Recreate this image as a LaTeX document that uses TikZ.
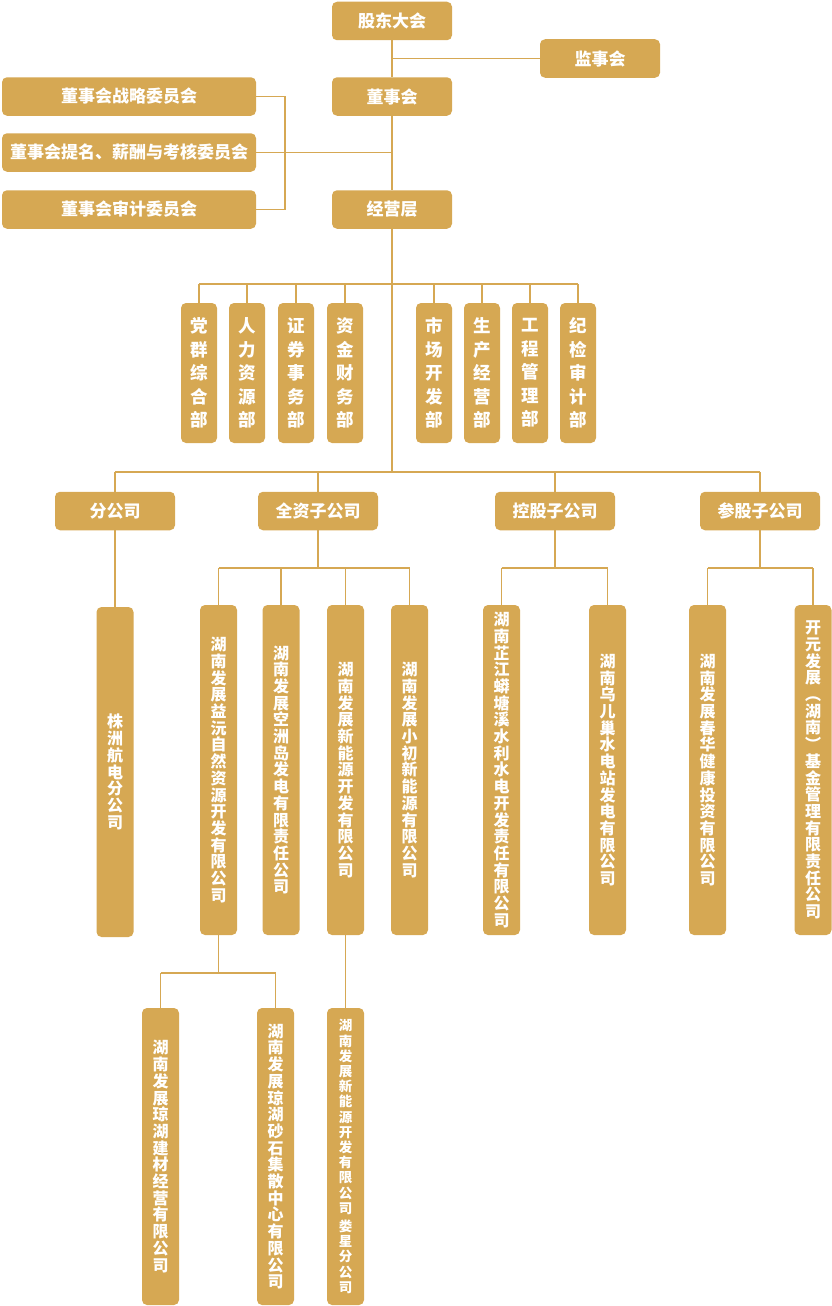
\documentclass[tikz,border=0pt]{standalone}
\usepackage{fontspec}
\newfontfamily\cjk{Noto Sans CJK SC}
\definecolor{gold}{HTML}{D6A853}
\begin{document}
\begin{tikzpicture}[x=1pt,y=-1pt,
 box/.style={fill=gold, rounded corners=5pt, text=white, inner sep=0pt, font=\cjk\bfseries\fontsize{17}{19}\selectfont},
 hbox/.style={box, minimum width=120pt, minimum height=38.5pt},
 cbox/.style={box, minimum width=254pt, minimum height=38.5pt},
 dbox/.style={box, minimum width=36pt, minimum height=140pt, align=center, font=\cjk\bfseries\fontsize{17.5}{23.5}\selectfont},
 vbox/.style={box, minimum width=37pt, minimum height=330pt, align=center, font=\cjk\bfseries\fontsize{16}{16.7}\selectfont},
 wbox/.style={box, minimum width=37pt, minimum height=297pt, align=center, font=\cjk\bfseries\fontsize{16}{16.7}\selectfont},
 sbox/.style={box, minimum width=37pt, minimum height=297pt, align=center, font=\cjk\bfseries\fontsize{13.5}{15.2}\selectfont},
 link/.style={draw=gold, line width=1.2pt}]
\useasboundingbox (0,0) rectangle (832,1306);
% top levels
\node[hbox] (gd) at (392,21) {股东大会};
\node[hbox] (js) at (600,58.5) {监事会};
\node[hbox] (dsh) at (392,96.5) {董事会};
\node[cbox] (c1) at (129,96.5) {董事会战略委员会};
\node[cbox] (c2) at (129,152.5) {董事会提名、薪酬与考核委员会};
\node[cbox] (c3) at (129,209.5) {董事会审计委员会};
\node[hbox] (jy) at (392,209.5) {经营层};
% departments
\node[dbox] (d1) at (199,373) {党\\群\\综\\合\\部};
\node[dbox] (d2) at (247,373) {人\\力\\资\\源\\部};
\node[dbox] (d3) at (296,373) {证\\券\\事\\务\\部};
\node[dbox] (d4) at (345,373) {资\\金\\财\\务\\部};
\node[dbox] (d5) at (434,373) {市\\场\\开\\发\\部};
\node[dbox] (d6) at (482,373) {生\\产\\经\\营\\部};
\node[dbox] (d7) at (530,373) {工\\程\\管\\理\\部};
\node[dbox] (d8) at (578,373) {纪\\检\\审\\计\\部};
% second level
\node[hbox] (fg) at (115,511) {分公司};
\node[hbox] (qz) at (318,511) {全资子公司};
\node[hbox] (kg) at (555,511) {控股子公司};
\node[hbox] (cg) at (760,511) {参股子公司};
% companies
\node[vbox] (zz) at (115,772) {株\\洲\\航\\电\\分\\公\\司};
\node[vbox] (q1) at (218.5,770) {湖\\南\\发\\展\\益\\沅\\自\\然\\资\\源\\开\\发\\有\\限\\公\\司};
\node[vbox] (q2) at (281,770) {湖\\南\\发\\展\\空\\洲\\岛\\发\\电\\有\\限\\责\\任\\公\\司};
\node[vbox] (q3) at (345.5,770) {湖\\南\\发\\展\\新\\能\\源\\开\\发\\有\\限\\公\\司};
\node[vbox] (q4) at (409.5,770) {湖\\南\\发\\展\\小\\初\\新\\能\\源\\有\\限\\公\\司};
\node[vbox] (k1) at (501.5,770) {湖\\南\\芷\\江\\蟒\\塘\\溪\\水\\利\\水\\电\\开\\发\\责\\任\\有\\限\\公\\司};
\node[vbox] (k2) at (607.5,770) {湖\\南\\乌\\儿\\巢\\水\\电\\站\\发\\电\\有\\限\\公\\司};
\node[vbox] (p1) at (707.5,770) {湖\\南\\发\\展\\春\\华\\健\\康\\投\\资\\有\\限\\公\\司};
\node[vbox] (p2) at (813,770) {开\\元\\发\\展\\︵\\湖\\南\\︶\\基\\金\\管\\理\\有\\限\\责\\任\\公\\司};
% fourth level
\node[wbox] (r1) at (160.5,1156.5) {湖\\南\\发\\展\\琼\\湖\\建\\材\\经\\营\\有\\限\\公\\司};
\node[wbox] (r2) at (275.5,1156.5) {湖\\南\\发\\展\\琼\\湖\\砂\\石\\集\\散\\中\\心\\有\\限\\公\\司};
\node[sbox] (r3) at (345.5,1156.5) {湖\\南\\发\\展\\新\\能\\源\\开\\发\\有\\限\\公\\司\\[3pt]娄\\星\\分\\公\\司};
% junction coordinates
\coordinate (jA) at (392,58.5);
\coordinate (jB) at (392,152.5);
\coordinate (bk) at (285,152.5);
\coordinate (bus1) at (392,284);
\coordinate (bus2) at (392,472);
\coordinate (bus3) at (318,568);
\coordinate (bus4) at (555,568);
\coordinate (bus5) at (760,568);
\coordinate (bus6) at (218.5,973);
% connectors
\draw[link] (gd.south) -- (dsh.north);
\draw[link] (jA) -- (js.west);
\draw[link] (dsh.south) -- (jy.north);
\draw[link] (jB) -- (c2.east);
\draw[link] (c1.east) -| (bk |- c3.east) -- (c3.east);
\draw[link] (jy.south) -- (bus2);
\draw[link] (d1.north |- bus1) -- (d8.north |- bus1);
\foreach \d in {d1,d2,d3,d4,d5,d6,d7,d8} \draw[link] (\d.north |- bus1) -- (\d.north);
\draw[link] (fg.north |- bus2) -- (cg.north |- bus2);
\foreach \d in {fg,qz,kg,cg} \draw[link] (\d.north |- bus2) -- (\d.north);
\draw[link] (fg.south) -- (zz.north);
\draw[link] (qz.south) -- (bus3);
\draw[link] (q1.north |- bus3) -- (q4.north |- bus3);
\foreach \d in {q1,q2,q3,q4} \draw[link] (\d.north |- bus3) -- (\d.north);
\draw[link] (kg.south) -- (bus4);
\draw[link] (k1.north |- bus4) -- (k2.north |- bus4);
\foreach \d in {k1,k2} \draw[link] (\d.north |- bus4) -- (\d.north);
\draw[link] (cg.south) -- (bus5);
\draw[link] (p1.north |- bus5) -- (p2.north |- bus5);
\foreach \d in {p1,p2} \draw[link] (\d.north |- bus5) -- (\d.north);
\draw[link] (q1.south) -- (bus6);
\draw[link] (r1.north |- bus6) -- (r2.north |- bus6);
\foreach \d in {r1,r2} \draw[link] (\d.north |- bus6) -- (\d.north);
\draw[link] (q3.south) -- (r3.north);
\end{tikzpicture}
\end{document}
